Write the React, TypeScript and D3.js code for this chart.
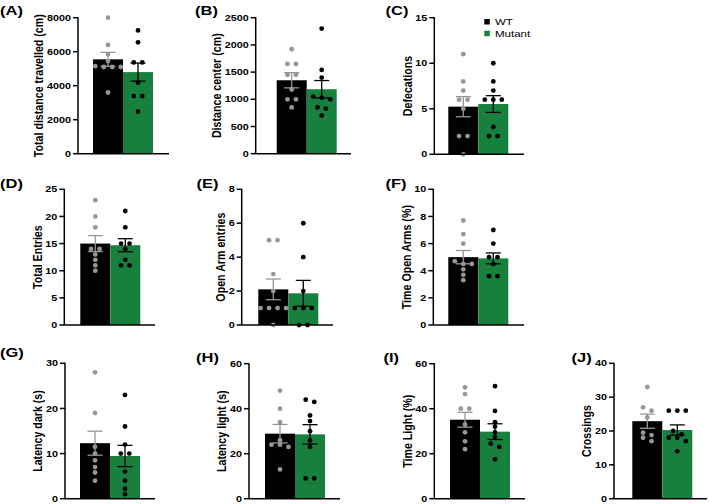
import React from 'react';
import * as d3 from 'd3';

const groups = ['WT', 'Mutant'];
const panelLetters = ['A', 'B', 'C', 'D', 'E', 'F', 'G', 'H', 'I', 'J'];
const yLabels = [
  'Total distance travelled (cm)',
  'Distance center (cm)',
  'Defecations',
  'Total Entries',
  'Open Arm entries',
  'Time Open Arms (%)',
  'Latency dark (s)',
  'Latency light (s)',
  'Time Light (%)',
  'Crossings',
];
const yMax = [8000, 2500, 15, 25, 8, 10, 30, 60, 60, 40];
const yTickStep = [2000, 500, 5, 5, 2, 2, 10, 20, 20, 10];

const wtMeans = [5550, 1350, 5.23, 15.0, 2.1, 5.0, 12.3, 28.9, 35.1, 22.9];
const wtSem = [410, 140, 1.1, 1.47, 0.61, 0.49, 2.66, 4.1, 3.3, 2.1];
const mutMeans = [4800, 1185, 5.52, 14.7, 1.87, 4.91, 9.46, 28.6, 29.8, 20.3];
const mutSem = [530, 160, 0.92, 1.2, 0.76, 0.4, 2.36, 4.3, 3.5, 1.5];

const wtPoints = [
  [8000, 6400, 5850, 5450, 5150, 5100, 5100, 5100, 3600],
  [1920, 1650, 1650, 1450, 1450, 1180, 1000, 1000, 850],
  [11, 8, 7, 6, 6, 5, 2, 2, 0],
  [23, 20, 18, 14, 14, 13, 12, 11, 10],
  [5, 5, 3, 2, 1, 1, 1, 1, 0],
  [7.7, 6.7, 6.0, 4.7, 4.5, 4.5, 4.1, 3.7, 3.3],
  [28, 19, 11.5, 10, 8.5, 7, 5.8, 4],
  [48, 40, 34, 26, 24, 24, 23, 13],
  [49.5, 46.5, 40, 40, 33, 29.5, 25.5, 22],
  [33, 27, 26, 24, 19.5, 18.8, 18, 17],
];
const mutPoints = [
  [7250, 6550, 5370, 5370, 4180, 3390, 3390, 2470],
  [2300, 1540, 1400, 1050, 1030, 1000, 850, 830, 700],
  [10, 8, 7, 6, 6, 6, 3, 2, 2],
  [21, 18, 15, 15, 14, 12, 11, 11],
  [6, 4, 2, 1, 1, 1, 0, 0],
  [7.0, 6.0, 5.0, 5.0, 4.5, 3.6, 3.6],
  [23, 16, 12, 10, 10, 6, 4, 2.2, 1],
  [44, 43, 37, 34.5, 30, 26, 23, 9, 9],
  [50, 39, 34, 32, 29.5, 27.5, 24.5, 23, 17.5],
  [26, 26, 26, 20, 19, 18, 18, 17, 14],
];

// layout (pixels)
const layout = [
  { ax: 78, top: 17.7, bot: 153.7, bar0: 93, end: 169, lx: 0, ly: 14.5 },
  { ax: 255.7, top: 17.7, bot: 153.7, bar0: 276.7, end: 351, lx: 195, ly: 14.5 },
  { ax: 434.3, top: 17.7, bot: 154.3, bar0: 448.3, end: 524, lx: 385.5, ly: 14.5 },
  { ax: 64.3, top: 189.3, bot: 325, bar0: 80.3, end: 155, lx: 0, ly: 188 },
  { ax: 241.7, top: 189.3, bot: 325, bar0: 258.3, end: 333, lx: 196.5, ly: 188 },
  { ax: 433.3, top: 189.3, bot: 325, bar0: 448.3, end: 524, lx: 385.5, ly: 188 },
  { ax: 65, top: 363.3, bot: 498.7, bar0: 80, end: 155, lx: 0, ly: 356.5 },
  { ax: 249, top: 363.7, bot: 498.7, bar0: 265, end: 340, lx: 196, ly: 361.5 },
  { ax: 434.3, top: 363.7, bot: 498.7, bar0: 450, end: 525, lx: 383.5, ly: 361.5 },
  { ax: 614, top: 363.3, bot: 498.7, bar0: 632.3, end: 707, lx: 571.5, ly: 361.5 },
];

const BAR_W = 30;
const GREEN = '#17803d';
const GRAY = '#979797';
const SY = 0.82;
const FONT = 'Liberation Sans, Arial, Helvetica, sans-serif';
const STEP = 8.5;
const DOT_R = 2.4;

function swarm(vals: number[], y: (v: number) => number) {
  const sorted = vals.map((v) => ({ v, py: y(v), dx: 0 })).sort((a, b) => a.py - b.py);
  const clusters: typeof sorted[] = [];
  let cur: typeof sorted = [];
  for (const p of sorted) {
    if (cur.length && p.py - cur[0].py >= 4) {
      clusters.push(cur);
      cur = [];
    }
    cur.push(p);
  }
  if (cur.length) clusters.push(cur);
  clusters.forEach((c) => c.forEach((p, i) => (p.dx = (i - (c.length - 1) / 2) * STEP)));
  return sorted;
}

function Panel({ i }: { i: number }) {
  const L = layout[i];
  const y = d3.scaleLinear().domain([0, yMax[i]]).range([L.bot, L.top]);
  const x = d3.scaleBand().domain(groups).range([L.bar0, L.bar0 + 2 * BAR_W]).padding(0);
  const ticks = d3.range(0, yMax[i] + yTickStep[i] / 2, yTickStep[i]);
  const maxLen = d3.max(ticks, (t) => String(t).length) as number;
  const tickW = maxLen * 0.556 * 10.8;
  const labelX = L.ax - 7 - tickW - 3.5;
  const means = [wtMeans[i], mutMeans[i]];
  const sems = [wtSem[i], mutSem[i]];
  const pts = [wtPoints[i], mutPoints[i]];
  const fills = ['#000000', GREEN];
  const dotCols = [GRAY, '#000000'];
  return (
    <g>
      {groups.map((g, k) => (
        <rect key={g} x={x(g)} y={y(means[k])} width={x.bandwidth()} height={L.bot - y(means[k])} fill={fills[k]} />
      ))}
      {groups.map((g, k) => {
        const cx = (x(g) as number) + x.bandwidth() / 2;
        const hi = y(means[k] + sems[k]);
        const lo = y(means[k] - sems[k]);
        return (
          <g key={g} stroke={dotCols[k]} strokeWidth={1.3} fill="none">
            <line x1={cx} x2={cx} y1={hi} y2={lo} />
            <line x1={cx - 7.5} x2={cx + 7.5} y1={hi} y2={hi} />
            <line x1={cx - 7.5} x2={cx + 7.5} y1={lo} y2={lo} />
          </g>
        );
      })}
      {groups.map((g, k) => {
        const cx = (x(g) as number) + x.bandwidth() / 2;
        return swarm(pts[k], y).map((p, j) => (
          <circle key={g + j} cx={cx + p.dx} cy={p.py} r={DOT_R} fill={dotCols[k]} />
        ));
      })}
      <g stroke="#000" strokeWidth={1.5} fill="none">
        <line x1={L.ax} x2={L.ax} y1={L.top - 0.5} y2={L.bot} />
        <line x1={L.ax} x2={L.end} y1={L.bot} y2={L.bot} />
        {ticks.map((t) => (
          <line key={t} x1={L.ax - 5} x2={L.ax} y1={y(t)} y2={y(t)} />
        ))}
      </g>
      {ticks.map((t) => (
        <text
          key={t}
          transform={`translate(${L.ax - 7},${y(t)}) scale(1,${SY})`}
          dy="0.36em"
          textAnchor="end"
          fontSize={10.8}
          fontWeight="bold"
          fontFamily={FONT}
        >
          {String(t)}
        </text>
      ))}
      <text
        transform={`translate(${labelX},${(L.top + L.bot) / 2}) scale(1,${SY}) rotate(-90)`}
        textAnchor="middle"
        fontSize={13}
        fontWeight="bold"
        fontFamily={FONT}
      >
        {yLabels[i]}
      </text>
      <text
        transform={`translate(${L.lx},${L.ly}) scale(1,${SY})`}
        fontSize={16.5}
        fontWeight="bold"
        fontFamily={FONT}
      >
        {`(${panelLetters[i]})`}
      </text>
    </g>
  );
}

export default function App() {
  const legendCols = ['#000000', GREEN];
  return (
    <svg width={709} height={504} style={{ position: 'absolute', left: 0, top: 0, background: '#fff' }}>
      {panelLetters.map((_, i) => (
        <Panel key={i} i={i} />
      ))}
      {groups.map((g, k) => (
        <g key={g}>
          <rect x={484.3} y={19 + k * 11.7} width={5.5} height={5.5} fill={legendCols[k]} />
          <text
            transform={`translate(495,${25.3 + k * 11.7}) scale(1,${SY})`}
            fontSize={11.5}
            fontFamily={FONT}
          >
            {g}
          </text>
        </g>
      ))}
    </svg>
  );
}
